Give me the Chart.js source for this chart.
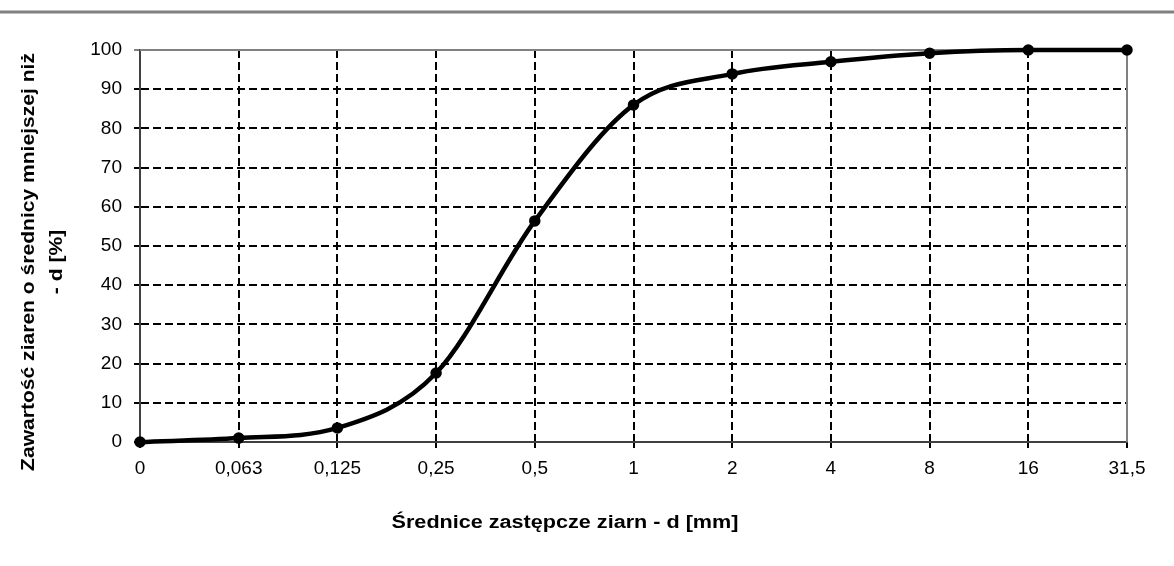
<!DOCTYPE html>
<html>
<head>
<meta charset="utf-8">
<script src="https://cdn.jsdelivr.net/npm/chart.js@4"></script>
<style>
  html, body { margin: 0; padding: 0; background: #fff; }
  #wrap { width: 1174px; height: 566px; }
</style>
</head>
<body>
<div id="wrap"><canvas id="grainChart" width="1174" height="566"></canvas></div>
<script>
// sieve sizes [mm] and passing percentages
var sieveLabels = ['0', '0,063', '0,125', '0,25', '0,5', '1', '2', '4', '8', '16', '31,5'];
var passingValues = [0, 1, 3.6, 17.6, 56.4, 86, 93.9, 97, 99.2, 100, 100];
var yTicks = [0, 10, 20, 30, 40, 50, 60, 70, 80, 90, 100];

var xTitle = 'Średnice zastępcze ziarn - d [mm]';
var yTitle = ['Zawartość ziaren o średnicy mniejszej niż', '- d [%]'];

var fontFamily = '"Liberation Sans", Arial, sans-serif';
var frameColor = '#808080';
var axisColor = '#404040';

// top separator line and axis titles (titles are a bit stretched like the original)
var decorPlugin = {
  id: 'decor',
  beforeDraw: function (chart) {
    var ctx = chart.ctx;
    ctx.save();
    ctx.strokeStyle = frameColor;
    ctx.lineWidth = 3;
    ctx.beginPath();
    ctx.moveTo(0, 12);
    ctx.lineTo(chart.width, 12);
    ctx.stroke();
    ctx.restore();
  },
  afterDraw: function (chart) {
    var ctx = chart.ctx;
    ctx.save();
    ctx.fillStyle = '#000';
    ctx.font = 'bold 18px ' + fontFamily;
    ctx.textAlign = 'center';
    ctx.textBaseline = 'middle';
    ctx.save();
    ctx.translate(565, 523);
    ctx.scale(1.2, 1);
    ctx.fillText(xTitle, 0, 0);
    ctx.restore();
    ctx.translate(0, 262);
    ctx.rotate(-Math.PI / 2);
    ctx.scale(1.17, 1);
    ctx.fillText(yTitle[0], 0, 29);
    ctx.fillText(yTitle[1], 0, 57);
    ctx.restore();
  }
};

var frameLines = {
  id: 'frameLines',
  beforeDatasetsDraw: function (chart) {
    var a = chart.chartArea;
    var ctx = chart.ctx;
    ctx.save();
    ctx.strokeStyle = frameColor;
    ctx.lineWidth = 2;
    ctx.beginPath();
    ctx.moveTo(a.right, a.top);
    ctx.lineTo(a.right, a.bottom);
    ctx.moveTo(a.left, a.top);
    ctx.lineTo(a.right, a.top);
    ctx.stroke();
    ctx.restore();
  }
};

var config = {
  type: 'line',
  data: {
    labels: sieveLabels,
    datasets: [{
      data: passingValues,
      borderColor: '#000',
      backgroundColor: '#000',
      borderWidth: 4.5,
      pointRadius: 3.5,
      pointHoverRadius: 3.5,
      tension: 0.4,
      cubicInterpolationMode: 'monotone',
      clip: false
    }]
  },
  options: {
    responsive: false,
    animation: false,
    layout: { padding: { top: 50, right: 47, bottom: 0, left: 0 } },
    plugins: {
      legend: { display: false },
      title: { display: false },
      tooltip: { enabled: false }
    },
    scales: {
      x: {
        offset: false,
        afterFit: function (scale) { scale.height = 124; },
        grid: {
          color: '#000',
          lineWidth: 2,
          tickLength: 6,
          drawTicks: true
        },
        border: { display: true, color: axisColor, width: 2, dash: [8, 4] },
        ticks: {
          color: '#000',
          font: { family: fontFamily, size: 19 },
          padding: 9,
          maxRotation: 0,
          autoSkip: false
        }
      },
      y: {
        min: 0,
        max: 100,
        afterFit: function (scale) { scale.width = 140; },
        afterBuildTicks: function (scale) {
          scale.ticks = yTicks.map(function (v) { return { value: v }; });
        },
        grid: {
          color: function (c) { return c.tick && c.tick.value === 100 ? frameColor : '#000'; },
          lineWidth: 2,
          tickLength: 6,
          drawTicks: true
        },
        border: { display: true, color: axisColor, width: 2, dash: [8, 4] },
        ticks: {
          color: '#000',
          font: { family: fontFamily, size: 19 },
          padding: 12
        }
      }
    }
  },
  plugins: [decorPlugin, frameLines]
};

var ctx = document.getElementById('grainChart').getContext('2d');
window.grainChart = new Chart(ctx, config);
</script>
</body>
</html>
